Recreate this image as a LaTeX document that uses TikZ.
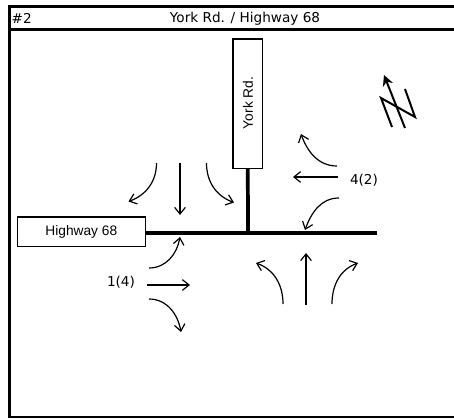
\documentclass[tikz,border=0pt]{standalone}
\usepackage{fontspec}
\setmainfont{DejaVu Sans}
\newfontfamily\boxfont{Liberation Sans}
\usetikzlibrary{arrows.meta}

\begin{document}
\begin{tikzpicture}[
    x=0.75pt, y=-0.75pt,
    >={Straight Barb[length=5pt,width=8pt]},
    roadbox/.style={draw, line width=1.1pt, fill=white, inner sep=0pt, font=\boxfont\fontsize{10.3}{12}\selectfont},
    caption/.style={inner sep=0pt, font=\fontsize{10.2}{12}\selectfont},
    road/.style={line width=2.8pt},
    frame/.style={line width=2.2pt},
    move/.style={->, line width=0.9pt}
]
\useasboundingbox (0,0) rectangle (454,420);

% frame and title
\coordinate (tl) at (9.5,6.5);
\coordinate (tr) at (454,6.5);
\coordinate (bl) at (9.5,417);
\coordinate (br) at (454,417);
\coordinate (rl) at (9.5,29.7);
\coordinate (rr) at (454,29.7);
\draw[frame] (tr) -- (tl) -- (bl) -- (br);
\draw[frame] (rl) -- (rr);
\node[caption] (num) at (21.7,18.5) {\#2};
\node[caption] (title) at (245,18.5) {York Rd. / Highway 68};

% roads
\node[roadbox, minimum width=22pt, minimum height=97pt] (york) at (247.8,103.7) {};
\node[rotate=90, inner sep=0pt, font=\boxfont\fontsize{10.3}{12}\selectfont] (yorklabel) at (248,103) {York Rd.};
\node[roadbox, minimum width=96pt, minimum height=22pt] (hwy) at (81.3,231.8) {Highway 68};
\coordinate (cross) at (248,232.7);
\coordinate (roadend) at (377,232.7);
\draw[road] (york.south) -- (cross);
\draw[road] (hwy.east |- cross) -- (roadend);

% north arrow
\coordinate (n1) at (392,127);
\coordinate (n2) at (381,98);
\coordinate (n3) at (415,117);
\coordinate (n4) at (405,89);
\coordinate (n5) at (405,128);
\coordinate (n6) at (384,75);
\draw[line width=1.5pt, line join=miter] (n1) -- (n2) -- (n3) -- (n4);
\draw[-{Stealth[length=8pt,width=8pt]}, line width=1.5pt] (n5) -- (n6);

% south bound
\coordinate (sl1) at (156.5,163);
\coordinate (sl2) at (128.5,201.5);
\coordinate (st1) at (180,163);
\coordinate (st2) at (180,215);
\coordinate (sr1) at (206.5,163);
\coordinate (sr2) at (234,202.5);
\draw[move] (sl1) to[out=270,in=20] (sl2);
\draw[move] (st1) -- (st2);
\draw[move] (sr1) to[out=270,in=160] (sr2);

% west bound
\node[caption] (wlabel) at (364,180) {4(2)};
\coordinate (wr1) at (337,166);
\coordinate (wr2) at (301,134);
\coordinate (wt1) at (338,177);
\coordinate (wt2) at (293,177);
\coordinate (wl1) at (339,198);
\coordinate (wl2) at (305,230);
\draw[move] (wr1) to[out=180,in=290] (wr2);
\draw[move] (wt1) -- (wt2);
\draw[move] (wl1) to[out=180,in=70] (wl2);

% east bound
\node[caption] (elabel) at (121,282) {1(4)};
\coordinate (el1) at (149,268);
\coordinate (el2) at (180,237);
\coordinate (et1) at (147,285);
\coordinate (et2) at (190,285);
\coordinate (er1) at (149,299);
\coordinate (er2) at (181,332);
\draw[move] (el1) to[out=0,in=260] (el2);
\draw[move] (et1) -- (et2);
\draw[move] (er1) to[out=0,in=100] (er2);

% north bound
\coordinate (nl1) at (283,304);
\coordinate (nl2) at (256,263);
\coordinate (nt1) at (306,305);
\coordinate (nt2) at (306,253);
\coordinate (nr1) at (332,304);
\coordinate (nr2) at (358,263);
\draw[move] (nl1) to[out=90,in=340] (nl2);
\draw[move] (nt1) -- (nt2);
\draw[move] (nr1) to[out=90,in=200] (nr2);
\end{tikzpicture}
\end{document}
